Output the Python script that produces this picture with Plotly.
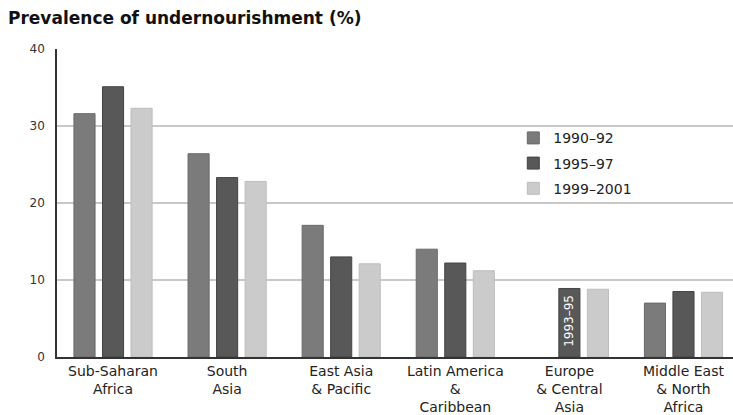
import plotly.graph_objects as go

categories = ["Sub-Saharan<br>Africa", "South<br>Asia", "East Asia<br>& Pacific",
              "Latin America<br>&<br>Caribbean", "Europe<br>& Central<br>Asia",
              "Middle East<br>& North<br>Africa"]
series_names = ["1990\u201392", "1995\u201397", "1999\u20132001"]
v_1990_92 = [31.6, 26.4, 17.1, 14.0, None, 7.0]
v_1995_97 = [35.1, 23.3, 13.0, 12.2, 8.9, 8.5]
v_1999_2001 = [32.3, 22.8, 12.1, 11.2, 8.8, 8.4]
values = [v_1990_92, v_1995_97, v_1999_2001]
colors = ["#7b7b7b", "#585858", "#cbcbcb"]
edge_colors = ["#6a6a6a", "#444444", "#bdbdbd"]
europe_note = "1993\u201395"

FONT = "DejaVu Sans"

fig = go.Figure()
for i, (name, vals) in enumerate(zip(series_names, values)):
    fig.add_trace(go.Bar(
        x=categories, y=vals, name=name, legendgroup=name,
        marker=dict(color=colors[i], line=dict(color=edge_colors[i], width=1)),
    ))

fig.add_annotation(
    x=categories[4], y=v_1995_97[4] / 2 + 0.3, xref="x", yref="y",
    text=europe_note, textangle=-90, showarrow=False,
    font=dict(family=FONT, size=12, color="white"),
)

fig.update_layout(
    width=733, height=415,
    margin=dict(l=57, r=0, t=49, b=58),
    paper_bgcolor="white", plot_bgcolor="white",
    barmode="group", bargap=0.25, bargroupgap=0.26,
    font=dict(family=FONT, size=14, color="#222"),
    title=dict(text="<b>Prevalence of undernourishment (%)</b>",
               x=8 / 733, xref="container", xanchor="left",
               y=1 - 18 / 415, yref="container", yanchor="middle",
               font=dict(family=FONT, size=17, color="#111")),
    legend=dict(x=0.675, y=0.762, xanchor="left", yanchor="top",
                font=dict(family=FONT, size=14, color="#222"),
                bgcolor="rgba(0,0,0,0)", tracegroupgap=4),
    showlegend=True,
)
fig.update_xaxes(range=[-0.491, 5.434], showline=True, linecolor="#333", linewidth=2,
                 showgrid=False, ticks="", tickfont=dict(family=FONT, size=14, color="#222"))
fig.update_yaxes(range=[0, 40], tickvals=[0, 10, 20, 30, 40], showline=True,
                 linecolor="#333", linewidth=1.5, showgrid=True, gridcolor="#c8c8c8",
                 gridwidth=2, zeroline=False, ticks="", ticklabelstandoff=8,
                 tickfont=dict(family=FONT, size=12, color="#333"))

fig.write_html("out.html")
